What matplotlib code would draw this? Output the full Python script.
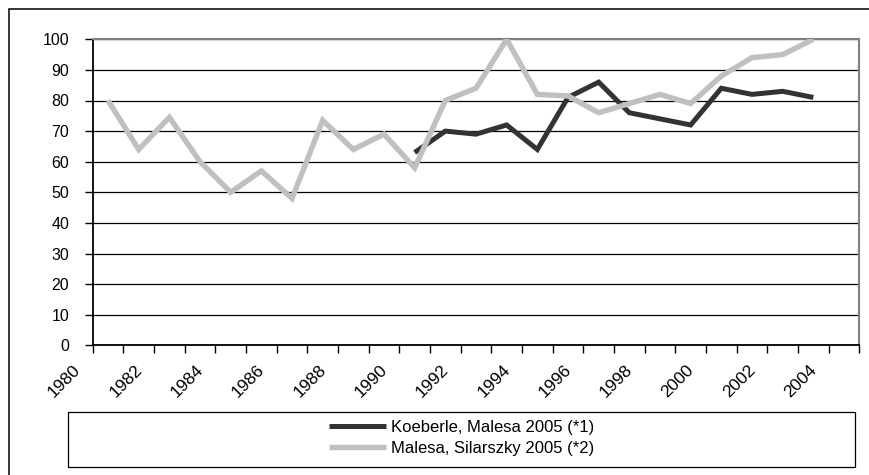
#!/usr/bin/env python3
"""Line chart of two index series, 1980-2004."""

import numpy as np
import matplotlib
matplotlib.use('Agg')
import matplotlib.pyplot as plt
from matplotlib.patches import Rectangle
from matplotlib.transforms import ScaledTranslation

plt.rcParams['font.family'] = ['Liberation Sans', 'DejaVu Sans']

# categories on the x axis (last one is empty in the original)
years = list(range(1980, 2005))

koeberle = [None] * 10 + [63, 70, 69, 72, 64, 81, 86, 76, 74, 72,
                          84, 82, 83, 81, None]
malesa = [80, 64, 74.5, 60, 50, 57, 48, 73.5, 64, 69, 58, 80, 84, 100,
          82, 81.5, 76, 79, 82, 79, 88, 94, 95, 100, None]

series_names = ['Koeberle, Malesa 2005 (*1)', 'Malesa, Silarszky 2005 (*2)']
yticks = list(range(0, 101, 10))

W, H = 870, 475
fig = plt.figure(figsize=(W / 100, H / 100), dpi=100)
ax = fig.add_axes([92.7 / W, 1 - 345.3 / H, (859.3 - 92.7) / W, (345.3 - 39.3) / H])

x = np.arange(len(years))
k = np.array(koeberle, dtype=float)
m = np.array(malesa, dtype=float)

l1, = ax.plot(x, k, color='#333333', lw=3.6, solid_joinstyle='miter',
              solid_capstyle='butt', zorder=3, label=series_names[0])
l2, = ax.plot(x, m, color='#c0c0c0', lw=3.9, solid_joinstyle='miter',
              solid_capstyle='butt', zorder=4, label=series_names[1])

ax.set_xlim(-0.5, len(years) - 0.5)
ax.set_ylim(0, 100)

ax.set_yticks(yticks)
ax.yaxis.grid(True, color='black', lw=0.9)
ax.set_axisbelow(True)

# tick marks at category boundaries, labels at every other category centre
bounds = np.arange(-0.5, len(years), 1)
ax.set_xticks(bounds, labels=[''] * len(bounds))
ax.set_xticks(x[::2], labels=[str(y) for y in years[::2]], minor=True)
ax.tick_params(axis='x', which='major', length=6, width=1, direction='out', color='black')
ax.tick_params(axis='x', which='minor', length=0, pad=12, labelsize=12.5)
ax.tick_params(axis='y', length=6, width=1, direction='out', pad=11, labelsize=11.5)

off = ScaledTranslation(-0.35, 0, fig.dpi_scale_trans)
for lab in ax.get_xticklabels(minor=True):
    lab.set_rotation(45)
    lab.set_ha('right')
    lab.set_va('top')
    lab.set_rotation_mode('anchor')
    lab.set_transform(lab.get_transform() + off)

for side in ['left', 'bottom']:
    ax.spines[side].set_color('black')
    ax.spines[side].set_linewidth(1.3)
for side in ['top', 'right']:
    ax.spines[side].set_color('#808080')
    ax.spines[side].set_linewidth(1.5)

# legend with its own box
fig.legend(handles=[l1, l2], loc='center',
           bbox_to_anchor=(461.5 / W, 1 - 438 / H), frameon=False,
           fontsize=12, handlelength=3.4, handletextpad=0.3,
           labelspacing=0.35)
fig.add_artist(Rectangle((68 / W, 1 - 467 / H), (855 - 68) / W, (467 - 412) / H,
                         transform=fig.transFigure, fill=False,
                         ec='black', lw=0.9))

# outer chart border (runs off the right and bottom edges)
fig.add_artist(Rectangle((9 / W, -0.05), 1.1, (H - 9) / H + 0.05,
                         transform=fig.transFigure, fill=False,
                         ec='black', lw=1.1, clip_on=False))

fig.savefig('out.png', dpi=100)
